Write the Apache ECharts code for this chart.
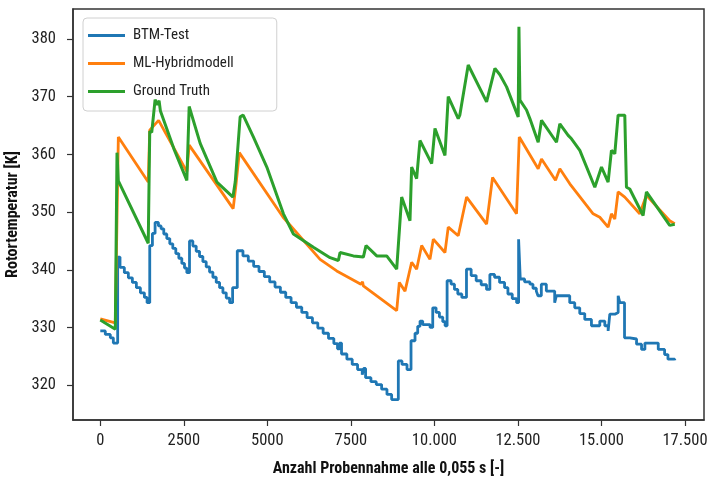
<!DOCTYPE html>
<html>
<head>
<meta charset="utf-8">
<script src="https://cdn.jsdelivr.net/npm/echarts@6/dist/echarts.min.js"></script>
<style>
html,body{margin:0;padding:0;background:#fff;}
#chart{width:709px;height:480px;}
</style>
</head>
<body>
<div id="chart"></div>
<script>
// ---- data ----
var seriesNames = ['BTM-Test', 'ML-Hybridmodell', 'Ground Truth'];
var xTickValues = [0, 2500, 5000, 7500, 10000, 12500, 15000, 17500];
var xTickLabels = ['0', '2500', '5000', '7500', '10.000', '12.500', '15.000', '17.500'];
var yTickValues = [320, 330, 340, 350, 360, 370, 380];
var xAxisTitle = 'Anzahl Probennahme alle 0,055 s [-]';
var yAxisTitle = 'Rotortemperatur [K]';

var btmTest = [
  [0,329.4],[150,328.8],[300,328.2],[390,327.3],[520,342.2],[590,340.4],[720,339.5],[840,338.6],[960,337.8],
  [1080,336.9],[1200,336.0],[1320,335.2],[1400,334.3],[1480,344.2],[1560,346.3],[1640,348.2],[1740,347.6],
  [1820,347.1],[1900,346.2],[1990,345.4],[2080,344.5],[2170,343.7],[2260,342.8],[2350,342.0],[2440,341.1],
  [2520,340.3],[2590,339.5],[2670,345.0],[2770,344.1],[2870,343.2],[2970,342.3],[3070,341.4],[3170,340.5],
  [3270,339.6],[3370,338.7],[3470,337.8],[3570,336.9],[3670,336.0],[3770,335.1],[3870,334.3],[3960,336.9],
  [4100,343.3],[4270,342.4],[4430,341.5],[4590,340.6],[4750,339.7],[4910,338.8],[5070,337.9],[5230,337.0],
  [5390,336.1],[5550,335.2],[5710,334.3],[5870,333.5],[6030,332.6],[6190,331.7],[6350,330.8],[6510,329.9],
  [6670,329.0],[6830,328.1],[6990,327.2],[7100,326.3],[7160,327.3],[7220,325.4],[7380,324.5],[7540,323.6],
  [7700,322.7],[7840,321.8],[7880,322.9],[7940,321.3],[8100,320.6],[8260,320.1],[8420,319.3],[8580,318.4],
  [8720,317.5],[8920,324.2],[9030,323.6],[9180,322.7],[9300,327.7],[9420,329.0],[9500,330.2],[9570,331.1],
  [9650,330.5],[9870,330.0],[9950,333.4],[10050,332.6],[10150,331.8],[10250,331.0],[10320,330.3],[10380,338.1],
  [10500,337.5],[10600,336.6],[10700,335.8],[10820,335.2],[10960,340.1],[11100,339.0],[11250,338.1],[11400,337.4],
  [11560,336.6],[11660,339.2],[11800,338.7],[11950,337.8],[12100,336.9],[12200,335.8],[12330,335.0],[12460,334.3],
  [12520,345.3],[12570,338.4],[12700,337.9],[12860,337.5],[12950,336.8],[13050,336.3],[13100,335.5],[13200,337.5],
  [13350,336.3],[13600,334.3],[13650,335.5],[13850,335.5],[14050,334.3],[14200,333.4],[14350,332.4],[14500,331.4],
  [14700,330.3],[14950,331.1],[15100,330.3],[15200,329.4],[15250,332.3],[15400,332.6],[15500,335.5],[15550,334.3],
  [15690,328.2],[15850,328.0],[16050,327.1],[16200,326.2],[16300,327.3],[16500,327.3],[16700,326.2],[16890,325.3],
  [16990,324.5],[17193,324.3]
];

var mlHybrid = [
  [0,331.5],[449,330.8],[470,330.5],[540,363.0],[1435,355.2],[1480,364.2],[1520,364.5],[1745,365.9],[2590,357.0],
  [2660,361.6],[3977,350.6],[4066,355.0],[4160,360.3],[5472,349.1],[6578,341.8],[7076,339.8],[7125,340.1],
  [7800,337.5],[7850,337.9],[7873,337.2],[8871,332.9],[8950,337.8],[9120,336.3],[9319,341.3],[9468,340.1],
  [9618,344.2],[9867,341.8],[9967,345.3],[10316,343.0],[10414,347.4],[10713,345.9],[10963,352.6],[11562,347.9],
  [11740,356.0],[12458,349.7],[12540,363.0],[13106,357.5],[13206,359.2],[13624,355.5],[13754,357.5],[14053,354.9],
  [14751,349.7],[14950,349.1],[15199,347.4],[15299,349.7],[15399,348.8],[15498,353.5],[15698,352.6],[16146,349.7],
  [16346,352.9],[17043,348.5],[17193,348.0]
];

var groundTruth = [
  [0,331.3],[449,329.7],[500,360.3],[540,355.4],[1435,344.6],[1480,364.0],[1540,363.8],[1570,365.5],[1640,369.5],
  [1700,368.6],[1760,369.3],[1800,367.5],[2200,361.0],[2590,355.5],[2660,368.3],[2990,361.9],[3490,355.2],
  [3970,352.6],[4040,355.3],[4186,366.5],[4276,366.8],[4584,363.0],[4984,357.8],[5481,349.7],[5780,346.2],
  [6378,343.9],[6877,342.1],[7125,341.6],[7176,343.0],[7574,342.4],[7873,342.2],[7953,344.2],[8273,342.4],
  [8572,342.4],[8871,340.1],[9020,352.6],[9269,348.5],[9319,357.8],[9468,355.8],[9568,362.4],[9918,358.4],
  [10017,364.5],[10316,359.8],[10414,370.0],[10713,366.2],[10760,366.8],[11012,375.5],[11562,369.1],[11811,374.9],
  [11960,373.8],[12160,371.7],[12508,366.5],[12530,382.1],[12560,369.4],[12757,367.7],[12857,366.2],[13106,362.1],
  [13206,365.9],[13654,362.1],[13754,365.3],[14003,363.3],[14103,362.7],[14352,360.7],[14801,354.3],[15001,357.8],
  [15199,355.2],[15299,360.7],[15399,360.1],[15498,366.8],[15698,366.8],[15748,354.3],[15847,354.0],[16246,349.4],
  [16346,353.5],[17043,347.7],[17193,347.9]
];

var colors = ['#1f77b4', '#ff7f0e', '#2ca02c'];
var narrow = "'Roboto Condensed', Roboto, sans-serif";

var chart = echarts.init(document.getElementById('chart'), null, {renderer: 'canvas'});
chart.setOption({
  animation: false,
  backgroundColor: '#fff',
  color: colors,
  grid: {left: 73, top: 9, right: 5, bottom: 60, containLabel: false, outerBoundsMode: 'none',
         show: true, borderColor: '#333', borderWidth: 1.5, backgroundColor: 'transparent'},
  legend: {
    left: 83, top: 18, orient: 'vertical',
    icon: 'rect', itemWidth: 37, itemHeight: 3, itemGap: 13,
    padding: [10, 43, 12, 5],
    backgroundColor: 'rgba(255,255,255,0.88)', borderColor: '#d0d0d0', borderWidth: 1, borderRadius: 4,
    textStyle: {fontFamily: narrow, fontSize: 15, color: '#222', padding: [0, 0, 0, 3]},
    data: seriesNames
  },
  xAxis: {
    type: 'value', min: -817, max: 18069,
    name: xAxisTitle, nameLocation: 'middle', nameGap: 41,
    nameTextStyle: {fontFamily: narrow, fontSize: 16, fontWeight: 'bold', color: '#111'},
    axisLine: {show: true, onZero: false, lineStyle: {color: '#333', width: 1.5}},
    axisTick: {show: true, length: 6, lineStyle: {color: '#333', width: 1.2}, customValues: xTickValues},
    axisLabel: {
      fontFamily: narrow, fontSize: 16.5, color: '#222', margin: 12, customValues: xTickValues,
      formatter: function (v) { var i = xTickValues.indexOf(v); return i >= 0 ? xTickLabels[i] : ''; }
    },
    splitLine: {show: false}
  },
  yAxis: {
    type: 'value', min: 313.96, max: 385.2,
    name: yAxisTitle, nameLocation: 'middle', nameGap: 47, nameRotate: 90,
    nameTextStyle: {fontFamily: narrow, fontSize: 16, fontWeight: 'bold', color: '#111'},
    axisLine: {show: true, onZero: false, lineStyle: {color: '#333', width: 1.5}},
    axisTick: {show: true, length: 6, lineStyle: {color: '#333', width: 1.2}, customValues: yTickValues},
    axisLabel: {fontFamily: narrow, fontSize: 16.5, color: '#222', margin: 17, customValues: yTickValues},
    splitLine: {show: false}
  },
  series: [
    {name: seriesNames[0], type: 'line', data: btmTest, step: 'end', showSymbol: false, symbol: 'none',
     lineStyle: {width: 2.8, color: colors[0]}, z: 3},
    {name: seriesNames[1], type: 'line', data: mlHybrid, showSymbol: false, symbol: 'none',
     lineStyle: {width: 2.8, color: colors[1]}, z: 4},
    {name: seriesNames[2], type: 'line', data: groundTruth, showSymbol: false, symbol: 'none',
     lineStyle: {width: 3, color: colors[2]}, z: 5}
  ]
});
</script>
</body>
</html>
